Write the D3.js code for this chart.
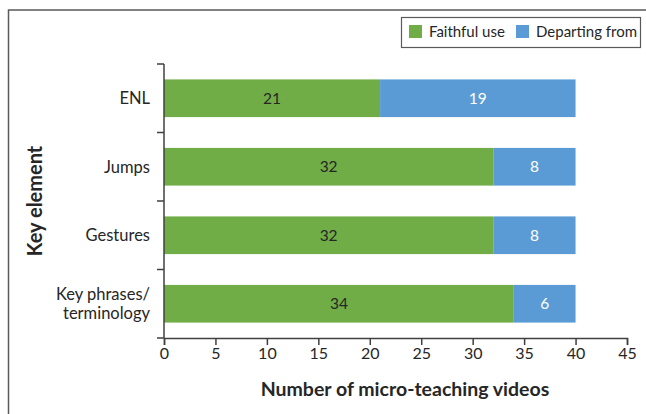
<!DOCTYPE html>
<html lang="en">
<head>
  <meta charset="UTF-8" />
  <script src="https://d3js.org/d3.v7.min.js"></script>
  <title>Key elements stacked bar</title>
  <style>
    body { margin: 0; background: #fff; }
    svg { display: block; font-family: Lato, "Open Sans", sans-serif; }
  </style>
</head>
<body>
  <svg width="646" height="414"></svg>

  <script>
    // Data
    const categories = ["ENL", "Jumps", "Gestures", "Key phrases/terminology"];
    const faithful = [21, 32, 32, 34];
    const departing = [19, 8, 8, 6];
    const seriesNames = ["Faithful use", "Departing from"];
    const xTicks = [0, 5, 10, 15, 20, 25, 30, 35, 40, 45];

    const colors = ["#70AD47", "#5B9BD5"];
    const labelColors = ["#262626", "#ffffff"];

    const svg = d3.select("svg");

    // outer frame (only top and left edges visible)
    svg.append("path")
      .attr("d", "M8.5,414 V10 H646")
      .attr("fill", "none")
      .attr("stroke", "#5a5a5a")
      .attr("stroke-width", 1.5);

    const margin = { top: 64, right: 19, bottom: 76, left: 164 };
    const width = 646 - margin.left - margin.right;
    const height = 414 - margin.top - margin.bottom;

    const chart = svg.append("g")
      .attr("transform", `translate(${margin.left},${margin.top})`);

    const x = d3.scaleLinear().domain([0, 45]).range([0, width]);
    const y = d3.scaleBand().domain(categories).range([0, height]).paddingInner(0.45).paddingOuter(0.225);

    const rows = categories.map((c, i) => ({ cat: c, values: [faithful[i], departing[i]] }));
    const stack = d3.stack().keys([0, 1]).value((d, k) => d.values[k]);
    const layers = stack(rows);

    const layer = chart.selectAll("g.layer")
      .data(layers)
      .enter().append("g")
      .attr("class", "layer")
      .attr("fill", (d, i) => colors[i]);

    layer.selectAll("rect")
      .data(d => d)
      .enter().append("rect")
      .attr("x", d => x(d[0]))
      .attr("y", d => y(d.data.cat))
      .attr("width", d => x(d[1]) - x(d[0]))
      .attr("height", y.bandwidth());

    layer.each(function (L, k) {
      d3.select(this).selectAll("text")
        .data(L)
        .enter().append("text")
        .attr("x", d => (x(d[0]) + x(d[1])) / 2)
        .attr("y", d => y(d.data.cat) + y.bandwidth() / 2)
        .attr("dy", "0.35em")
        .attr("text-anchor", "middle")
        .attr("font-size", 15.5)
        .attr("fill", labelColors[k])
        .text(d => d.data.values[k]);
    });

    // X axis
    const xAxis = chart.append("g")
      .attr("transform", `translate(0,${height})`)
      .call(d3.axisBottom(x).tickValues(xTicks).tickSizeOuter(0).tickSize(7).tickPadding(3));
    xAxis.selectAll("text").attr("font-size", 16).attr("fill", "#262626")
      .style("font-family", 'Lato, "Open Sans", sans-serif');

    // Y axis: ticks between categories
    const yAxis = chart.append("g");
    yAxis.append("line")
      .attr("x1", 0).attr("x2", 0).attr("y1", 0).attr("y2", height)
      .attr("stroke", "#404040").attr("stroke-width", 1.5);
    const step = y.step();
    const boundaries = d3.range(categories.length + 1).map(i => y.range()[0] + i * step);
    yAxis.selectAll("line.tick")
      .data(boundaries)
      .enter().append("line")
      .attr("class", "tick")
      .attr("x1", -7).attr("x2", 0)
      .attr("y1", d => d).attr("y2", d => d)
      .attr("stroke", "#404040").attr("stroke-width", 1.5);
    xAxis.select(".domain").attr("stroke", "#404040").attr("stroke-width", 1.5);
    xAxis.selectAll(".tick line").attr("stroke", "#404040").attr("stroke-width", 1.5);

    // category labels
    yAxis.selectAll("text.cat")
      .data(categories)
      .enter().append("text")
      .attr("class", "cat")
      .attr("x", -14)
      .attr("y", d => y(d) + y.bandwidth() / 2)
      .attr("text-anchor", "end")
      .attr("font-size", 16.5)
      .attr("fill", "#262626")
      .each(function (d) {
        const parts = d === "Key phrases/terminology" ? ["Key phrases/", "terminology"] : [d];
        const t = d3.select(this);
        parts.forEach((p, i) => {
          t.append("tspan")
            .attr("x", -14)
            .attr("dy", i === 0 ? `${0.35 - (parts.length - 1) * 0.6}em` : "1.2em")
            .text(p);
        });
      });

    // axis titles
    svg.append("text")
      .attr("x", 405)
      .attr("y", 396)
      .attr("text-anchor", "middle")
      .attr("font-size", 19.5)
      .attr("font-weight", "bold")
      .attr("fill", "#262626")
      .text("Number of micro-teaching videos");

    svg.append("text")
      .attr("transform", `translate(42,201) rotate(-90)`)
      .attr("text-anchor", "middle")
      .attr("font-size", 20)
      .attr("font-weight", "bold")
      .attr("fill", "#262626")
      .text("Key element");

    // legend
    const legend = svg.append("g").attr("transform", "translate(401,17)");
    legend.append("rect")
      .attr("x", 0.5).attr("y", 0.5).attr("width", 239).attr("height", 30)
      .attr("fill", "#fff").attr("stroke", "#5a5a5a").attr("stroke-width", 1.2);
    const itemX = [8, 115];
    seriesNames.forEach((name, i) => {
      legend.append("rect")
        .attr("x", itemX[i]).attr("y", 8).attr("width", 13).attr("height", 13)
        .attr("fill", colors[i]);
      legend.append("text")
        .attr("x", itemX[i] + 20).attr("y", 15)
        .attr("dy", "0.35em")
        .attr("font-size", 15)
        .attr("fill", "#262626")
        .text(name);
    });
  </script>
</body>
</html>
